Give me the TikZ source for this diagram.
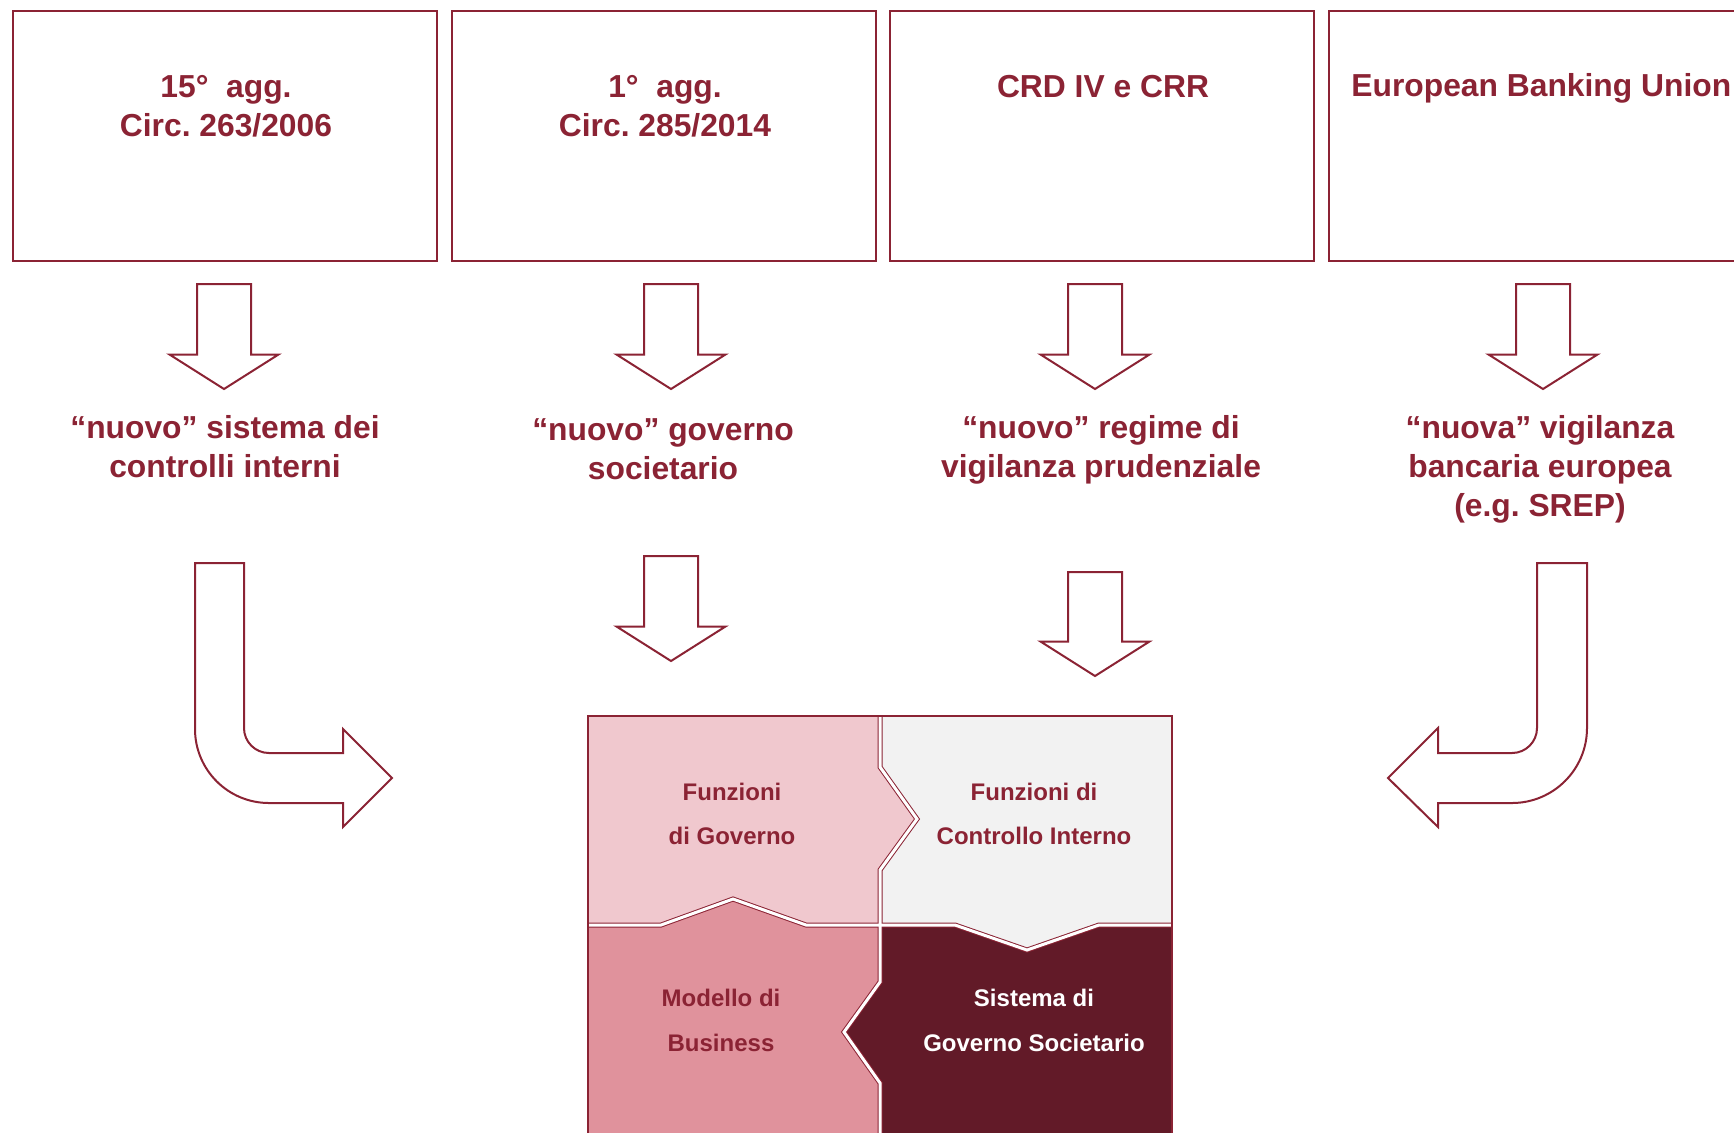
\documentclass[tikz,border=0pt]{standalone}
\usepackage{fontspec}
\setmainfont{Liberation Sans}
\usepackage{xcolor}
\usepackage{tikz}
\definecolor{bankred}{RGB}{139,35,52}
\definecolor{govpink}{RGB}{240,200,206}
\definecolor{bizpink}{RGB}{224,146,156}
\definecolor{ctrlgrey}{RGB}{242,242,242}
\definecolor{sgsred}{RGB}{98,26,40}
\frenchspacing

\begin{document}
\begin{tikzpicture}[x=0.5pt, y=-0.5pt,
	topbox/.style={draw=bankred, line width=1pt, minimum width=211.75pt, minimum height=125pt, inner sep=0},
	toptext/.style={font=\fontsize{15.9}{19.5}\selectfont\bfseries, text=bankred, align=center, inner sep=0},
	midtext/.style={font=\fontsize{15.9}{19.4}\selectfont\bfseries, text=bankred, align=center, inner sep=0},
	piecetext/.style={font=\fontsize{12}{22.4}\selectfont\bfseries, text=bankred, align=center, inner sep=0},
	blockarrow/.style={draw=bankred, line width=1pt, fill=white, line join=miter}
]
\useasboundingbox (0,0) rectangle (1734,1132);

\foreach \i/\bx in {1/225,2/664,3/1102,4/1541}
	\node[topbox] (box\i) at (\bx,136) {};

\node[toptext] (agg15) at (226,106) {15°~~agg.\\Circ. 263/2006};
\node[toptext] (agg1) at (665,106) {1°~~agg.\\Circ. 285/2014};
\node[toptext] (crd) at (1103,87) {CRD IV e CRR};
\node[toptext, anchor=west] (ebu) at (1351,88) {European Banking Union};

\foreach \ax/\atop/\atip in {224/284/389, 671/284/389, 1095/284/389, 1543/284/389, 671/556/661, 1095/572/676}
	\draw[blockarrow] (\ax-27,\atop) -- (\ax+27,\atop) -- (\ax+27,\atip-34.5) -- (\ax+54.5,\atip-34.5) -- (\ax,\atip) -- (\ax-54.5,\atip-34.5) -- (\ax-27,\atip-34.5) -- cycle;

\node[midtext] (ctrl) at (225,446.5) {“nuovo” sistema dei\\controlli interni};
\node[midtext] (gov) at (663,449) {“nuovo” governo\\societario};
\node[midtext] (prud) at (1101,449.5) {“nuovo” regime di\\vigilanza prudenziale};
\node[midtext] (srep) at (1540,469.5) {“nuova” vigilanza\\bancaria europea\\(e.g. SREP)};

\draw[blockarrow] (195,563) -- (244,563) -- (244,728) .. controls (244,741.8) and (255.2,753) .. (269,753) -- (343,753) -- (343,729) -- (392,778) -- (343,827) -- (343,803) -- (269,803) .. controls (228.1,803) and (195,769.9) .. (195,729) -- cycle;
\draw[blockarrow] (1587,563) -- (1537,563) -- (1537,728) .. controls (1537,741.8) and (1525.8,753) .. (1512,753) -- (1438,753) -- (1438,728) -- (1388,778) -- (1438,827) -- (1438,803) -- (1512,803) .. controls (1553.4,803) and (1587,769.4) .. (1587,728) -- cycle;

\fill[govpink] (588,716) -- (880,716) -- (880,767) -- (917,819) -- (880,870) -- (880,925) -- (806,925) -- (733,899) -- (661,925) -- (588,925) -- cycle;
\fill[ctrlgrey] (880,716) -- (1172,716) -- (1172,925) -- (1099,925) -- (1027,950) -- (955,925) -- (880,925) -- (880,870) -- (917,819) -- (880,767) -- cycle;
\fill[bizpink] (588,925) -- (661,925) -- (733,899) -- (806,925) -- (880,925) -- (880,982) -- (844,1032) -- (880,1083) -- (880,1140) -- (588,1140) -- cycle;
\fill[sgsred] (880,925) -- (955,925) -- (1027,950) -- (1099,925) -- (1172,925) -- (1172,1140) -- (880,1140) -- (880,1083) -- (844,1032) -- (880,982) -- cycle;

\foreach \sc/\sw in {bankred/2.5pt, white/1.5pt} {
	\draw[color=\sc, line width=\sw, line join=miter] (880,716) -- (880,767) -- (917,819) -- (880,870) -- (880,925);
	\draw[color=\sc, line width=\sw, line join=miter] (588,925) -- (661,925) -- (733,899) -- (806,925) -- (955,925) -- (1027,950) -- (1099,925) -- (1172,925);
	\draw[color=\sc, line width=\sw, line join=miter] (880,925) -- (880,982) -- (844,1032) -- (880,1083) -- (880,1140);
}
\draw[bankred, line width=1pt] (588,1140) -- (588,716) -- (1172,716) -- (1172,1140);

\node[piecetext] (fgov) at (732,814) {Funzioni\\di Governo};
\node[piecetext] (fci) at (1034,814) {Funzioni di\\Controllo Interno};
\node[piecetext] (mbiz) at (721,1020.5) {Modello di\\Business};
\node[piecetext, text=white] (sgs) at (1034,1020.5) {Sistema di\\Governo Societario};
\end{tikzpicture}
\end{document}
